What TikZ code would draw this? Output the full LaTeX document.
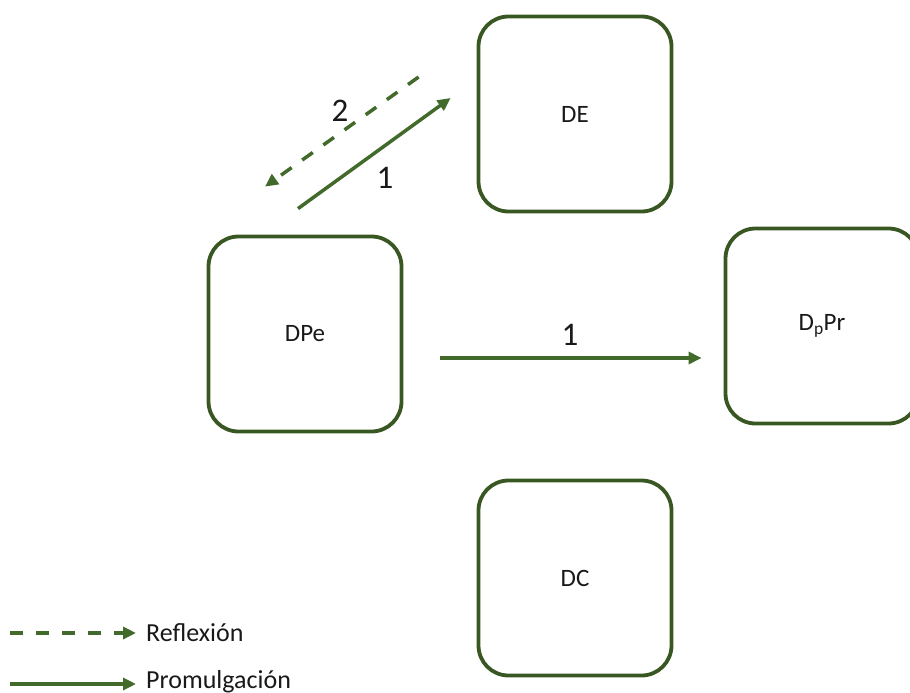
\documentclass[tikz,border=0pt]{standalone}
\usepackage{fontspec}
\setmainfont{Carlito}
\usetikzlibrary{arrows.meta}
\definecolor{boxgreen}{HTML}{385723}
\definecolor{arrgreen}{HTML}{426A2A}
\begin{document}
\begin{tikzpicture}[x=1pt,y=-1pt,
  dom/.style={draw=boxgreen,line width=3.8pt,rounded corners=30pt,minimum width=193pt,minimum height=195pt,inner sep=0pt,font=\fontsize{25}{28}\selectfont,text=black!90},
  flow/.style={draw=arrgreen,line width=3.5pt,-{Triangle[length=13pt,width=12pt]}},
  refl/.style={flow,dash pattern=on 13pt off 13pt},
  lbl/.style={font=\fontsize{33}{36}\selectfont,text=black!90,inner sep=0pt},
  leg/.style={font=\fontsize{26}{30}\selectfont,text=black!90,anchor=west,inner sep=0pt}]
\useasboundingbox (0,0) rectangle (910,693);
\node[dom] (DPe) at (305,334) {DPe};
\node[dom] (DE) at (575,114) {DE};
\node[dom] (DPr) at (822,326) {D\textsubscript{p}Pr};
\node[dom] (DC) at (575,578) {DC};
% diagonal arrows
\coordinate (s1) at ([shift={(-7,-26)}]DPe.north);
\coordinate (e1) at ([shift={(-26,-16)}]DE.west);
\coordinate (s2) at ([shift={(-58,-37)}]DE.west);
\coordinate (e2) at ([shift={(-40,-48)}]DPe.north);
\draw[flow] (s1) -- (e1);
\draw[refl] (s2) -- (e2);
\node[lbl] (n2) at (340,111) {2};
\node[lbl] (n1a) at (385,178) {1};
% horizontal arrow
\coordinate (h1) at ([shift={(37,24)}]DPe.east);
\coordinate (h2) at ([shift={(-22,32)}]DPr.west);
\draw[flow] (h1) -- (h2);
\node[lbl] (n1b) at (570,335) {1};
% legend
\coordinate (l1s) at (10,633);
\coordinate (l1e) at (136,633);
\coordinate (l2s) at (10,684);
\coordinate (l2e) at (136,684);
\draw[refl] (l1s) -- (l1e);
\draw[flow] (l2s) -- (l2e);
\node[leg] (tr) at (146,633) {Reflexión};
\node[leg] (tp) at (146,682) {Promulgación};
\end{tikzpicture}
\end{document}
